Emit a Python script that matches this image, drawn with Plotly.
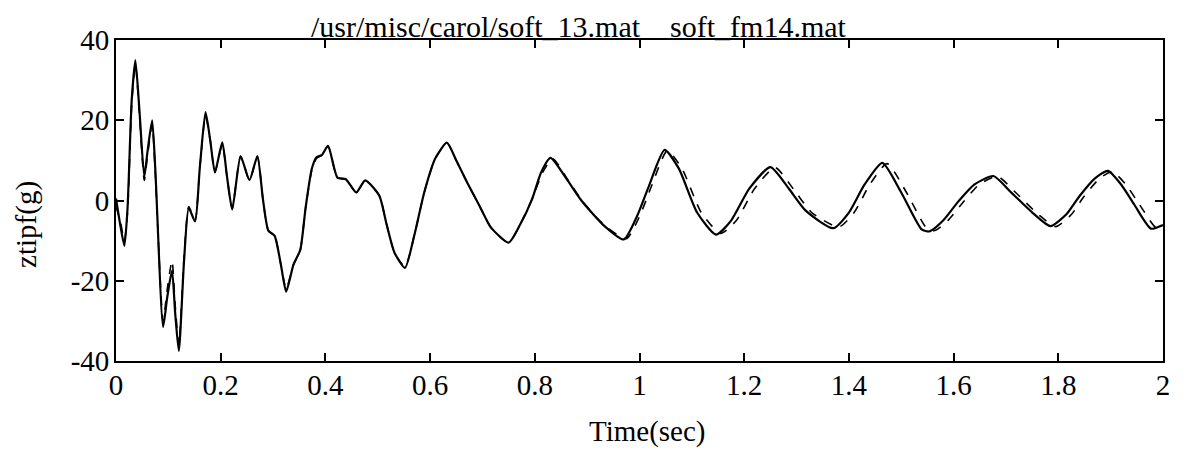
import plotly.graph_objects as go

# ---- data ----
t_solid = [0.000, 0.008, 0.016, 0.022, 0.030, 0.037, 0.045, 0.054, 0.060, 0.069,
           0.075, 0.090, 0.098, 0.107, 0.113, 0.120, 0.130, 0.139, 0.151, 0.160,
           0.171, 0.180, 0.189, 0.203, 0.212, 0.222, 0.238, 0.255, 0.270, 0.281,
           0.291, 0.303, 0.315, 0.325, 0.339, 0.352, 0.362, 0.374, 0.383, 0.393,
           0.405, 0.423, 0.439, 0.459, 0.476, 0.503, 0.517, 0.532, 0.552, 0.570,
           0.589, 0.610, 0.632, 0.650, 0.672, 0.695, 0.716, 0.750, 0.772, 0.795,
           0.812, 0.830, 0.860, 0.889, 0.930, 0.970, 0.995, 1.018, 1.048, 1.075,
           1.110, 1.146, 1.175, 1.210, 1.250, 1.285, 1.318, 1.370, 1.400, 1.430,
           1.464, 1.500, 1.539, 1.554, 1.580, 1.610, 1.640, 1.676, 1.710, 1.752,
           1.785, 1.815, 1.840, 1.870, 1.895, 1.920, 1.945, 1.977, 2.000]
z_solid = [0.5, -6.0, -11.3, -2.0, 25.0, 35.0, 22.0, 5.9, 12.0, 20.0,
           8.0, -31.5, -24.0, -17.5, -28.0, -37.5, -15.0, -1.9, -5.2, 8.0,
           22.0, 15.0, 7.0, 14.5, 6.0, -2.2, 11.0, 5.1, 11.0, 0.0,
           -7.5, -8.8, -16.0, -22.7, -16.0, -12.3, -2.0, 7.9, 10.8, 11.3,
           13.6, 5.7, 5.3, 2.0, 5.0, 1.2, -6.0, -13.0, -16.8, -8.6,
           2.1, 10.5, 14.4, 10.0, 4.2, -1.5, -6.7, -10.5, -6.0, 0.4,
           7.0, 10.6, 5.5, 0.0, -6.0, -9.7, -4.0, 3.6, 12.6, 8.0,
           -3.0, -8.5, -5.0, 3.0, 8.3, 3.0, -2.6, -6.9, -3.0, 4.0,
           9.4, 2.0, -7.2, -7.7, -5.0, -0.1, 4.0, 6.1, 2.0, -3.2,
           -6.4, -3.5, 1.0, 5.5, 7.4, 4.0, -1.0, -7.0, -6.1]

t_dash = [0.000, 0.008, 0.016, 0.022, 0.030, 0.037, 0.045, 0.054, 0.060, 0.069,
          0.075, 0.090, 0.098, 0.107, 0.113, 0.120, 0.130, 0.139, 0.151, 0.160,
          0.171, 0.180, 0.189, 0.203, 0.212, 0.222, 0.238, 0.255, 0.270, 0.281,
          0.291, 0.303, 0.315, 0.325, 0.339, 0.352, 0.362, 0.374, 0.383, 0.393,
          0.405, 0.423, 0.439, 0.459, 0.476, 0.503, 0.517, 0.532, 0.552, 0.570,
          0.589, 0.610, 0.632, 0.650, 0.672, 0.695, 0.716, 0.750, 0.772, 0.795,
          0.815, 0.834, 0.864, 0.893, 0.934, 0.975, 1.000, 1.023, 1.053, 1.081,
          1.118, 1.155, 1.185, 1.220, 1.259, 1.296, 1.329, 1.381, 1.410, 1.440,
          1.473, 1.510, 1.549, 1.564, 1.589, 1.619, 1.649, 1.684, 1.720, 1.762,
          1.795, 1.825, 1.849, 1.879, 1.903, 1.929, 1.955, 1.987, 2.000]
z_dash = [-1.5, -5.0, -10.0, -3.0, 24.0, 34.0, 21.0, 5.0, 11.0, 19.0,
          7.0, -30.0, -22.0, -15.0, -26.0, -36.0, -14.0, -1.5, -5.0, 8.0,
          21.0, 15.0, 7.0, 14.0, 6.0, -2.0, 11.0, 5.0, 11.0, 0.0,
          -7.5, -8.8, -16.0, -22.0, -16.0, -12.3, -2.0, 7.5, 10.5, 11.3,
          13.5, 5.7, 5.3, 2.0, 5.0, 1.2, -6.0, -13.0, -16.5, -8.6,
          2.1, 10.5, 14.4, 10.0, 4.2, -1.5, -6.7, -10.5, -6.0, 0.4,
          7.0, 10.4, 5.0, -0.5, -6.3, -9.5, -4.0, 3.6, 12.4, 8.0,
          -3.0, -8.2, -5.0, 3.0, 8.2, 2.5, -3.0, -6.6, -3.0, 4.0,
          9.2, 2.0, -7.0, -7.5, -5.0, -0.3, 4.0, 6.0, 1.8, -3.5,
          -6.5, -3.5, 1.0, 5.5, 7.2, 4.0, -1.0, -6.8, -6.3]

x_tickvals = [0, 0.2, 0.4, 0.6, 0.8, 1.0, 1.2, 1.4, 1.6, 1.8, 2.0]
x_ticktext = ["0", "0.2", "0.4", "0.6", "0.8", "1", "1.2", "1.4", "1.6", "1.8", "2"]
y_tickvals = [-40, -20, 0, 20, 40]
y_ticktext = ["-40", "-20", "0", "20", "40"]

title_text = "/usr/misc/carol/soft_13.mat\u00a0\u00a0\u00a0\u00a0soft_fm14.mat"
xlabel = "Time(sec)"
ylabel = "ztipf(g)"

FONT = "Liberation Serif, Times New Roman, serif"

fig = go.Figure()
fig.add_trace(go.Scatter(x=t_solid, y=z_solid, mode="lines",
                         line=dict(color="black", width=2.2, shape="spline", smoothing=0.6),
                         showlegend=False, hoverinfo="skip"))
fig.add_trace(go.Scatter(x=t_dash, y=z_dash, mode="lines",
                         line=dict(color="black", width=1.6, dash="dash", shape="spline", smoothing=0.6),
                         showlegend=False, hoverinfo="skip"))

# page body has an 8px default margin, so the figure is sized/offset to compensate
fig.update_layout(
    width=1180, height=445,
    margin=dict(l=108, r=25, t=32, b=92),
    paper_bgcolor="white", plot_bgcolor="white",
    font=dict(family=FONT, color="black", size=29),
    showlegend=False,
)
fig.update_xaxes(range=[0, 2], tickvals=x_tickvals, ticktext=x_ticktext,
                 ticks="inside", ticklen=8, tickwidth=1.5, tickcolor="black",
                 showline=True, linecolor="black", linewidth=1.8, mirror="ticks",
                 showgrid=False, zeroline=False,
                 tickfont=dict(family=FONT, size=29), ticklabelstandoff=-3)
fig.update_yaxes(range=[-40, 40], tickvals=y_tickvals, ticktext=y_ticktext,
                 ticks="inside", ticklen=8, tickwidth=1.5, tickcolor="black",
                 showline=True, linecolor="black", linewidth=1.8, mirror="ticks",
                 showgrid=False, zeroline=False,
                 tickfont=dict(family=FONT, size=29), ticklabelstandoff=-1)

fig.add_annotation(text=title_text, xref="paper", yref="paper", x=0.442, y=1,
                   xanchor="center", yanchor="bottom", yshift=-5, showarrow=False,
                   font=dict(family=FONT, size=30, color="black"))
fig.add_annotation(text=xlabel, xref="paper", yref="paper", x=0.508, y=0,
                   xanchor="center", yanchor="middle", yshift=-70, showarrow=False,
                   font=dict(family=FONT, size=29, color="black"))
fig.add_annotation(text=ylabel, xref="paper", yref="paper", x=-0.085, y=0.424,
                   xanchor="center", yanchor="middle", textangle=-90, showarrow=False,
                   font=dict(family=FONT, size=29, color="black"))

fig.write_html("out.html")
